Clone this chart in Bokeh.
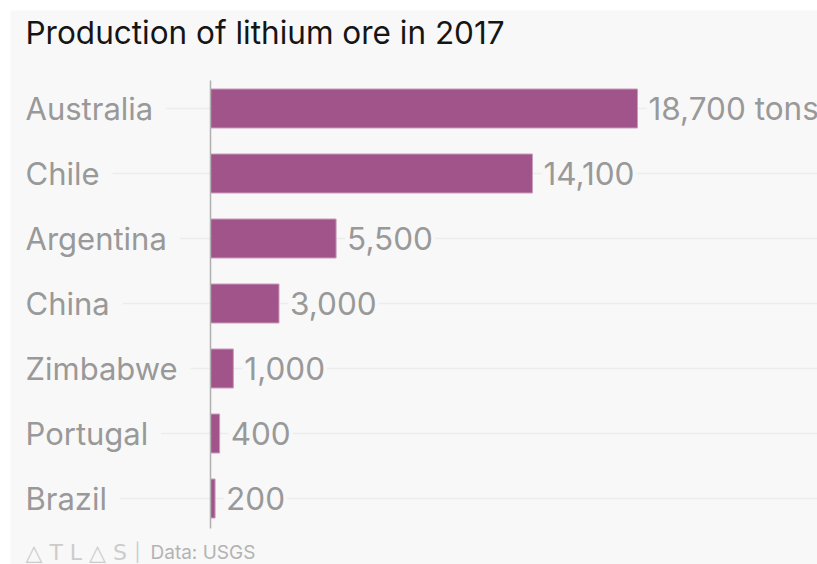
from bokeh.plotting import figure
from bokeh.models import Range1d, Label, ColumnDataSource
from bokeh.core.properties import value
from bokeh.embed import file_html
from bokeh.resources import INLINE

countries = ["Australia", "Chile", "Argentina", "China", "Zimbabwe", "Portugal", "Brazil"]
production = [18700, 14100, 5500, 3000, 1000, 400, 200]
value_labels = ["18,700 tons", "14,100", "5,500", "3,000", "1,000", "400", "200"]

W, H = 817, 564
MARGIN = 10
FW, FH = W - MARGIN, H - MARGIN   # frame size
BG = "#f8f8f8"
FONT = "Inter"

# layout (pixels within the frame)
bar_x0_px = 200          # where value 0 sits
label_x_px = 15
ppu = 427.0 / 18700.0    # pixels per ton
row_px = 65.0
top_row_px = 98.0        # centre of first row from frame top

n = len(countries)
ypos = [n - 1 - i for i in range(n)]
y_end = (n - 1) + top_row_px / row_px
y_start = y_end - FH / row_px
x_start = -bar_x0_px / ppu
x_end = (FW - bar_x0_px) / ppu
x_label = (label_x_px - bar_x0_px) / ppu

src = ColumnDataSource(dict(country=countries, prod=production, y=ypos,
                            lab=value_labels, xs=[x_label] * n, xe=[x_end] * n))

p = figure(width=W, height=H, output_backend="svg", toolbar_location=None,
           x_range=Range1d(x_start, x_end), y_range=Range1d(y_start, y_end),
           min_border=0, min_border_left=MARGIN, min_border_right=0,
           min_border_top=MARGIN, min_border_bottom=0)
p.axis.visible = False
p.grid.visible = False
p.outline_line_color = None
p.background_fill_color = BG
p.border_fill_color = "white"

# gridlines
p.segment(x0="xs", y0="y", x1="xe", y1="y", source=src, line_color="#ececec", line_width=1.5)

# bars
p.hbar(y="y", left=0, right="prod", height=0.6, source=src,
       fill_color="#a0548a", line_color="#c99cbd", line_width=1)

# axis line
p.segment(x0=[0], y0=[(n - 1) + 0.43], x1=[0], y1=[-0.46], line_color="#b0b0b0", line_width=1.5)

# category labels
p.text(x="xs", y="y", text="country", source=src, x_offset=-13,
       text_font=value(FONT), text_font_size="31px", text_color="#999999",
       text_baseline="middle", text_align="left",
       background_fill_color=BG, padding=13)

# value labels
p.text(x="prod", y="y", text="lab", source=src, x_offset=9,
       text_font=value(FONT), text_font_size="31.5px", text_color="#999999",
       text_baseline="middle", text_align="left",
       background_fill_color=BG, padding=2)

# title
p.add_layout(Label(x=label_x_px, y=FH - 22, x_units="screen", y_units="screen",
                   text="Production of lithium ore in 2017", text_font=FONT,
                   text_font_size="31.5px", text_color="#151515", text_baseline="middle"))

# footer
p.add_layout(Label(x=label_x_px, y=12, x_units="screen", y_units="screen",
                   text="\u25b3 T L \u25b3 S", text_font="DejaVu Sans",
                   text_font_size="22px", text_color="#cccccc", text_baseline="middle"))
p.add_layout(Label(x=label_x_px + 109, y=12, x_units="screen", y_units="screen",
                   text="|", text_font=FONT,
                   text_font_size="18px", text_color="#cccccc", text_baseline="middle"))
p.add_layout(Label(x=label_x_px + 125, y=12, x_units="screen", y_units="screen",
                   text="Data:  USGS", text_font=FONT,
                   text_font_size="19px", text_color="#b3b3b3", text_baseline="middle"))

open("out.html", "w").write(file_html(p, INLINE))
